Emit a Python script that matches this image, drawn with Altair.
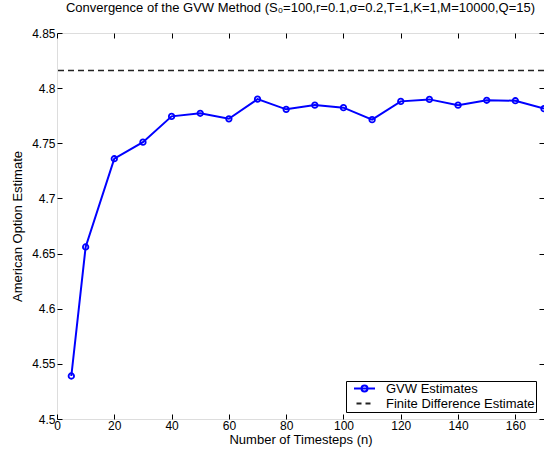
import altair as alt
import pandas as pd

n_steps = [5, 10, 20, 30, 40, 50, 60, 70, 80, 90, 100, 110, 120, 130, 140, 150, 160, 170]
gvw_est = [4.539, 4.656, 4.736, 4.751, 4.7744, 4.7772, 4.7722, 4.790, 4.7808, 4.7846,
           4.7823, 4.7714, 4.788, 4.7898, 4.7846, 4.789, 4.7886, 4.7814]
fd_estimate = 4.816
series_names = ["GVW Estimates", "Finite Difference Estimate"]
x_ticks = [0, 20, 40, 60, 80, 100, 120, 140, 160]
y_ticks = [4.5, 4.55, 4.6, 4.65, 4.7, 4.75, 4.8, 4.85]
x_domain = [0, 170]
y_domain = [4.5, 4.85]

FONT = "Liberation Sans"

df = pd.DataFrame({"n": n_steps, "est": gvw_est})
df_fd = pd.DataFrame({"fd": [fd_estimate]})
df_leg = pd.DataFrame({"series": series_names, "n": [n_steps[0], n_steps[0]],
                       "est": [gvw_est[0], fd_estimate]})

xs = alt.Scale(domain=x_domain, nice=False, zero=False)
ys = alt.Scale(domain=y_domain, nice=False, zero=False)

ax_common = dict(grid=False, domain=False, tickColor="black", tickSize=5, offset=-5,
                 labelColor="black", labelFont=FONT, labelFontSize=12,
                 titleFont=FONT, titleFontSize=13, titleFontWeight="normal",
                 titleColor="black")

x_axis = alt.Axis(orient="bottom", values=x_ticks, labelPadding=1, labelFlush=False,
                  title="Number of Timesteps (n)", titlePadding=2, **ax_common)
y_axis = alt.Axis(orient="left", values=y_ticks, format=".2~f", labelPadding=2,
                  title="American Option Estimate", titlePadding=7, **ax_common)
x_top = alt.Axis(orient="top", values=x_ticks, labels=False, title=None, **ax_common)
y_right = alt.Axis(orient="right", values=y_ticks, labels=False, title=None, **ax_common)

line = alt.Chart(df).mark_line(color="#0000ff", strokeWidth=2).encode(
    x=alt.X("n:Q", scale=xs, axis=x_axis),
    y=alt.Y("est:Q", scale=ys, axis=y_axis),
)
pts = alt.Chart(df).mark_point(color="#0000ff", filled=False, size=30, strokeWidth=1.8, opacity=1).encode(
    x=alt.X("n:Q", scale=xs, axis=None),
    y=alt.Y("est:Q", scale=ys, axis=None),
)

fd_rule = alt.Chart(df_fd).mark_rule(color="#222222", strokeWidth=1.6, strokeDash=[6, 4]).encode(
    y=alt.Y("fd:Q", scale=ys, axis=None)
)

gvw_path = "M-2.1,0L2.1,0M-0.6,0A0.6,0.6,0,1,1,0.6,0A0.6,0.6,0,1,1,-0.6,0"
fd_path = "M-1.6,0L-0.6,0M0.2,0L1.2,0"

legend_layer = alt.Chart(df_leg).transform_filter("false").mark_point(filled=False).encode(
    x=alt.X("n:Q", scale=xs, axis=x_top),
    y=alt.Y("est:Q", scale=ys, axis=y_right),
    color=alt.Color("series:N", scale=alt.Scale(domain=series_names, range=["#0000ff", "#222222"]),
                    legend=alt.Legend(title=None, orient="none", legendX=289, legendY=348,
                                      symbolOpacity=1, symbolSize=100, symbolStrokeWidth=2,
                                      symbolFillColor="transparent", symbolOffset=11,
                                      strokeColor="black", fillColor="white", padding=1,
                                      labelFont=FONT, labelFontSize=13, labelColor="black",
                                      labelOffset=15, rowPadding=1, cornerRadius=0)),
    shape=alt.Shape("series:N", scale=alt.Scale(domain=series_names, range=[gvw_path, fd_path]),
                    legend=None),
)

chart = alt.layer(line, pts, fd_rule, legend_layer).resolve_axis(
    x="independent", y="independent"
).properties(
    width=487, height=386,
    autosize=alt.AutoSizeParams(type="none"),
    padding={"left": 57, "top": 33, "right": 0, "bottom": 34},
    title=alt.TitleParams("Convergence of the GVW Method (S₀=100,r=0.1,σ=0.2,T=1,K=1,M=10000,Q=15)",
                          font=FONT, fontSize=13, fontWeight="normal", color="black",
                          anchor="middle", offset=12),
).configure_view(stroke="black", strokeWidth=1.2).configure(
    background="white"
).configure_axis(titleFontWeight="normal", labelFontWeight="normal")

chart.save("out.html", embed_options={"renderer": "svg", "actions": False})
